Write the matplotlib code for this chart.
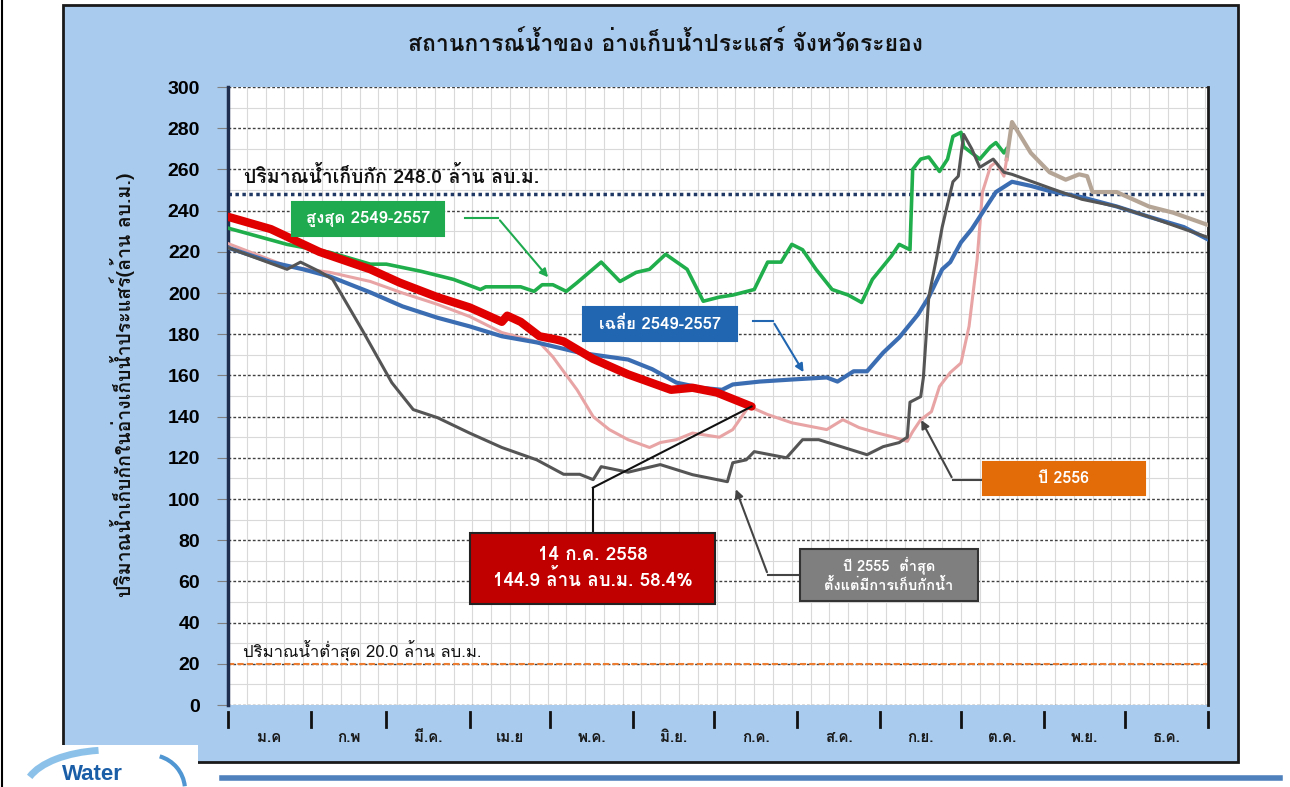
import numpy as np
import matplotlib
matplotlib.use('Agg')
import matplotlib.pyplot as plt
from matplotlib import font_manager
from matplotlib.patches import Rectangle, Arc
from matplotlib.lines import Line2D
from matplotlib.transforms import blended_transform_factory
from fontTools.ttLib import TTFont

# months (Thai abbreviations) and first day of each month
month_labels = ['ม.ค', 'ก.พ', 'มี.ค.', 'เม.ย', 'พ.ค.', 'มิ.ย.', 'ก.ค.', 'ส.ค.', 'ก.ย.', 'ต.ค.', 'พ.ย.', 'ธ.ค.']
month_starts = [0, 31, 59, 90, 120, 151, 181, 212, 243, 273, 304, 334, 365]

# storage (million m3) by day of year
red_day = [0, 8, 16, 34, 53, 64, 78, 90, 102, 104, 109, 116, 122, 125, 136, 149, 165, 173, 182, 195]
red_val = [237, 234, 231, 220, 211.5, 205, 198, 193, 186, 189, 186, 179, 177.5, 176.5, 168, 160.5, 153, 154, 151.7, 144.9]

green_day = [0, 22, 38, 53, 59, 72, 84, 94, 96, 109, 114, 117, 121, 126, 130, 139, 146, 152, 157, 163, 171,
             177, 183, 188, 196, 201, 206, 210, 214, 219, 225, 231, 236, 240, 247, 250, 254, 255, 258, 261,
             265, 268, 270, 273, 274, 280, 284, 286, 289, 290]
green_val = [231.5, 223.6, 219.7, 214, 214, 210.5, 206.6, 201.7, 203, 203, 200.8, 204, 204, 200.8, 205, 215,
             205.6, 210, 211.5, 218.8, 211.5, 196, 198, 199, 201.7, 215, 215, 223.6, 221, 211.5, 201.7, 199,
             195.4, 206.6, 217.8, 223.6, 221, 260, 265, 266, 259, 265, 276, 278, 271, 265, 271, 273, 268, 270]

blue_day = [0, 16, 28, 38, 53, 65, 78, 90, 102, 115, 131, 149, 158, 167, 176, 184, 188, 198, 210, 223, 227,
            233, 238, 244, 250, 257, 261, 266, 269, 273, 277, 281, 286, 292, 299, 306, 318, 331, 343, 356, 365]
blue_val = [222, 215, 211.5, 208, 200.3, 193.5, 188, 183.8, 179, 176, 171, 167.7, 163, 156.5, 154, 153, 155.6,
            157, 158, 159, 157, 162, 162, 171, 178.4, 189.6, 198, 211.5, 215, 224.6, 231, 239, 249, 254, 252,
            249.5, 246.5, 242, 237, 232, 226]

grey_day = [0, 22, 27, 34, 39, 50, 61, 69, 78, 90, 102, 115, 125, 131, 136, 139, 149, 161, 173, 186, 188, 193,
            196, 208, 214, 220, 238, 244, 250, 253, 254, 258, 259, 261, 264, 266, 270, 272, 274, 277, 280, 285,
            289, 292, 306, 318, 331, 343, 365]
grey_val = [222, 211.5, 215, 210.5, 206.6, 182, 156.5, 143.4, 139.5, 132, 125, 119, 112, 112, 109.4, 115.7, 113,
            116.7, 111.8, 108.4, 117.6, 119, 123, 120, 128.8, 128.8, 121.5, 125.4, 127.4, 130, 147, 149.7, 159,
            198, 217.8, 232, 254, 256.7, 277, 270, 261, 265, 258.6, 257.6, 251, 245.5, 242, 237, 227]

pink_day = [0, 22, 38, 53, 65, 78, 90, 102, 116, 121, 130, 136, 142, 149, 157, 161, 167, 173, 183, 188, 194,
            201, 210, 223, 229, 235, 242, 248, 253, 255, 258, 262, 265, 269, 273, 276, 279, 281, 284, 286, 289, 290]
pink_val = [224, 213, 210, 205.6, 200, 194.5, 188.6, 180.8, 176, 169, 153, 140, 133.7, 128.8, 125, 127.4, 128.8,
            132, 130, 133.7, 145, 141, 137, 133.7, 138.5, 134.7, 132, 130, 128, 132.7, 138.5, 142.4, 154.6,
            161.4, 166, 183.8, 216, 249, 261.5, 263.5, 256.7, 265]

tan_day = [290, 292, 299, 306, 312, 317, 320, 322, 331, 343, 352, 365]
tan_val = [265, 283, 268, 258.6, 255, 257.6, 256.7, 249, 249, 242, 239, 233]

# pick a font that has Thai glyphs
thai_font = None
for f in font_manager.fontManager.ttflist:
    try:
        if 0x0E01 in TTFont(f.fname, fontNumber=0, lazy=True).getBestCmap():
            thai_font = f.name
            break
    except Exception:
        pass
families = ([thai_font] if thai_font else []) + ['Liberation Sans', 'DejaVu Sans']
plt.rcParams['font.family'] = families

fig = plt.figure(figsize=(12.9, 7.87), dpi=100)
W, H = 1290, 787


def fx(px):
    return px / W


def fy(py):
    return 1 - py / H


# light blue panel
fig.patches.append(Rectangle((fx(63), fy(762)), fx(1238) - fx(63), fy(5) - fy(762), transform=fig.transFigure,
                             facecolor='#a9cbee', edgecolor='#1a1a1a', lw=2, zorder=-2))
fig.add_artist(Line2D([fx(1.5), fx(1.5)], [0, 1], color='black', lw=1.5))

ax = fig.add_axes([fx(228), fy(705), fx(1208) - fx(228), fy(87) - fy(705)])
ax.set_facecolor('white')
ax.set_xlim(0, 365)
ax.set_ylim(0, 300)

# grid
ax.set_yticks(np.arange(0, 301, 20))
ax.set_yticks(np.arange(0, 301, 10), minor=True)
ax.set_xticks(np.arange(0, 366, 7), minor=True)
ax.set_xticks([])
ax.grid(which='minor', axis='both', color='#d9d9d9', lw=0.8)
ax.grid(which='major', axis='y', color='#404040', lw=1, ls=(0, (2, 1.5)))
ax.tick_params(axis='x', which='both', length=0)
ax.tick_params(axis='y', which='major', length=8, color='#808080', pad=12)
ax.tick_params(axis='y', which='minor', length=0)
for lab in ax.get_yticklabels():
    lab.set_fontsize(14)
    lab.set_fontweight('bold')
    lab.set_family(['Liberation Sans', 'DejaVu Sans'])
ax.set_axisbelow(True)
for s in ['top', 'bottom']:
    ax.spines[s].set_visible(False)
ax.spines['left'].set_color('#1f2d4f')
ax.spines['left'].set_linewidth(2.5)
ax.spines['right'].set_color('#1a1a1a')
ax.spines['right'].set_linewidth(2)

# reference levels
ax.axhline(248, color='#1f3864', lw=2.5, ls=(0, (1, 1)), zorder=2)
ax.axhline(20, color='#ed7d31', lw=1.5, ls=(0, (3, 1.5)), zorder=2)
ax.text(6, 256.5, 'ปริมาณน้ำเก็บกัก 248.0 ล้าน ลบ.ม.', fontsize=14, fontweight='bold', va='center', color='#111111')
ax.text(5.5, 26, 'ปริมาณน้ำต่ำสุด 20.0 ล้าน ลบ.ม.', fontsize=12, va='center', color='#111111')

# series
ax.plot(green_day, green_val, color='#1fae4b', lw=2.6, zorder=3, solid_joinstyle='round')
ax.plot(tan_day, tan_val, color='#b5a596', lw=3, zorder=3, solid_joinstyle='round')
ax.plot(pink_day, pink_val, color='#e8a4a4', lw=2.2, zorder=4, solid_joinstyle='round')
ax.plot(blue_day, blue_val, color='#3b6db3', lw=3, zorder=4, solid_joinstyle='round')
ax.plot(grey_day, grey_val, color='#555555', lw=2.2, zorder=5, solid_joinstyle='round')
ax.plot(red_day, red_val, color='#e00000', lw=6, zorder=6, solid_joinstyle='round', solid_capstyle='round')


def label_box(x0, x1, y0, y1, text, face, size=11, edge=None):
    ax.add_patch(Rectangle((x0, y0), x1 - x0, y1 - y0, facecolor=face, edgecolor=edge or face,
                           lw=1.5, zorder=8))
    ax.text((x0 + x1) / 2, (y0 + y1) / 2, text, color='white', fontsize=size, fontweight='bold',
            ha='center', va='center', zorder=9, linespacing=1.3)


def pointer(pts, color, head=True):
    xs = [p[0] for p in pts]
    ys = [p[1] for p in pts]
    ax.plot(xs[:-1], ys[:-1], color=color, lw=1.5, zorder=7)
    if head:
        ax.annotate('', xy=pts[-1], xytext=pts[-2],
                    arrowprops=dict(arrowstyle='-|>', color=color, lw=1.5, mutation_scale=12), zorder=7)
    else:
        ax.plot(xs[-2:], ys[-2:], color=color, lw=1.5, zorder=7)


label_box(23.8, 80.4, 227.5, 244, 'สูงสุด 2549-2557', '#1faa4f', size=12)
pointer([(88.3, 236.3), (100.6, 236.3), (119.9, 206.6)], '#1faa4f')

label_box(132.2, 189.6, 176.5, 193, 'เฉลี่ย 2549-2557', '#2166b0', size=12)
pointer([(195.5, 186.2), (203, 186.2), (214.9, 160.4)], '#2166b0')

label_box(90.1, 181.4, 49.1, 83.6, '14 ก.ค. 2558\n144.9 ล้าน ลบ.ม. 58.4%', '#c00000', size=13.5, edge='#222222')
pointer([(135.9, 83.6), (135.9, 105.5), (red_day[-1], red_val[-1])], '#111111', head=False)

label_box(213, 279.3, 50.6, 75.8, 'ปี 2555  ต่ำสุด\nตั้งแต่มีการเก็บกักน้ำ', '#7f7f7f', size=10.5, edge='#333333')
pointer([(213, 63.2), (201.1, 63.2), (188.8, 106)], '#444444')

label_box(281.2, 341.5, 102.1, 118.1, 'ปี 2556', '#e36c09', size=11.5)
pointer([(281.2, 109.4), (270, 109.4), (257.7, 139.5)], '#444444')

# month ticks and labels under the axis
tr = blended_transform_factory(ax.transData, ax.transAxes)
for d in month_starts:
    ax.plot([d, d], [-0.012, -0.036], color='#111111', lw=2, transform=tr, clip_on=False)
for i, lab in enumerate(month_labels):
    ax.text((month_starts[i] + month_starts[i + 1]) / 2, -0.053, lab, transform=tr, ha='center', va='center',
            fontsize=11, fontweight='bold', color='#1a1a1a')

fig.text(fx(665), fy(43), 'สถานการณ์น้ำของ อ่างเก็บน้ำประแสร์ จังหวัดระยอง', ha='center', va='center',
         fontsize=16.5, fontweight='bold', color='#111111')
fig.text(fx(122), fy(385), 'ปริมาณน้ำเก็บกักในอ่างเก็บน้ำประแสร์(ล้าน ลบ.ม.)', rotation=90, ha='center',
         va='center', fontsize=14, fontweight='bold', color='#111111')

# footer: logo corner and blue rule
fig.patches.append(Rectangle((0, 0), fx(198), fy(745), transform=fig.transFigure, facecolor='white',
                             edgecolor='none', zorder=1))
fig.patches.append(Arc((fx(110), fy(790)), fx(170), fy(750) - fy(830), theta1=100, theta2=165,
                       transform=fig.transFigure, color='#8cc2ea', lw=5, zorder=2))
fig.patches.append(Arc((fx(150), fy(790)), fx(70), fy(755) - fy(825), theta1=10, theta2=80,
                       transform=fig.transFigure, color='#4f96d2', lw=3, zorder=2))
fig.add_artist(Line2D([fx(222), fx(1280)], [fy(778), fy(778)], color='#4f81bd', lw=4))
fig.text(fx(62), fy(774), 'Water', fontsize=16, fontweight='bold', color='#1b5ea8', ha='left', va='center',
         family=['Liberation Sans', 'DejaVu Sans'], zorder=3)

fig.savefig('out.png', dpi=100)
